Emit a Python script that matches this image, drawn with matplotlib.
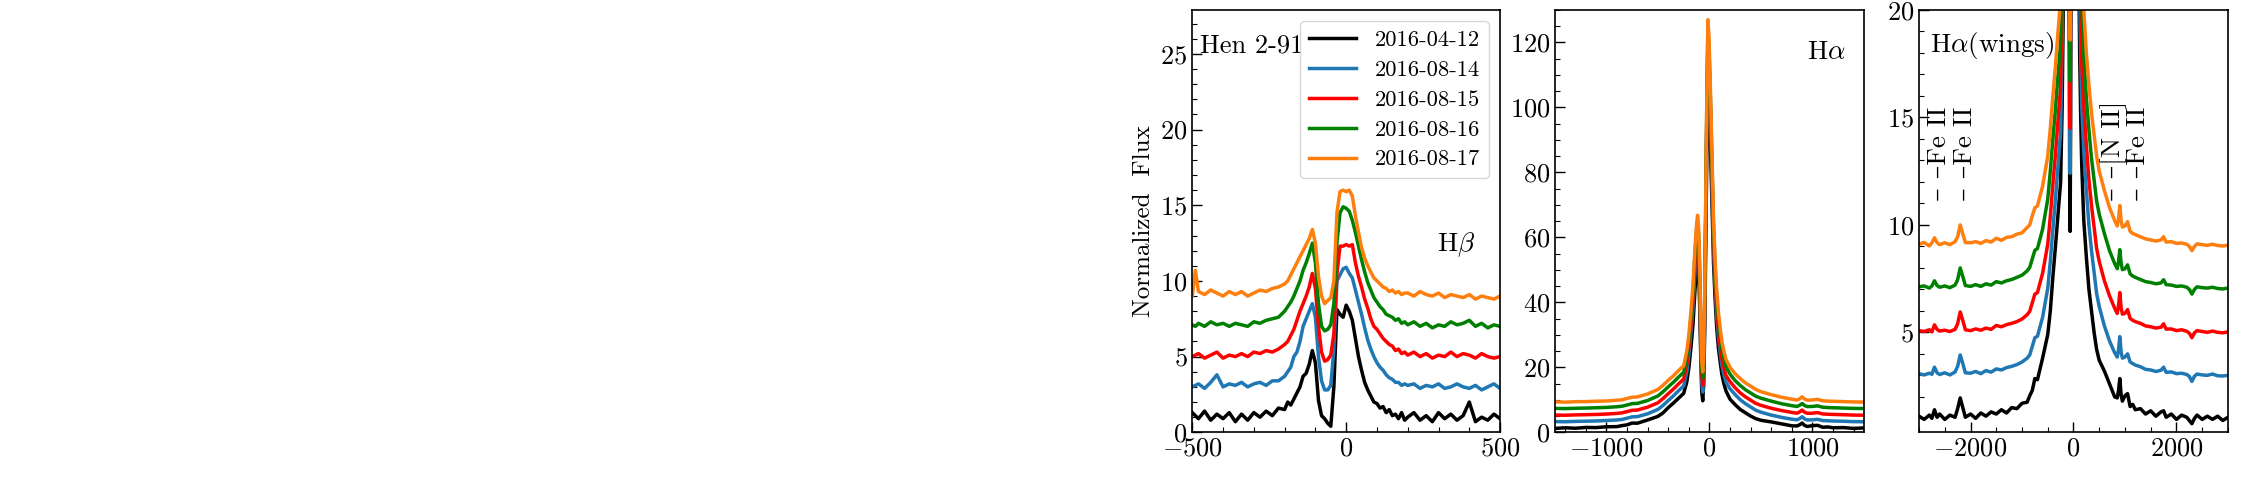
import matplotlib
matplotlib.use("Agg")
import matplotlib.pyplot as plt
from matplotlib.ticker import MultipleLocator

plt.rcParams['font.family'] = ['cmr10', 'DejaVu Serif']
plt.rcParams['mathtext.fontset'] = 'cm'
plt.rcParams['axes.formatter.use_mathtext'] = True

dates = ["2016-04-12", "2016-08-14", "2016-08-15", "2016-08-16", "2016-08-17"]
colors = ["black", "#1f77b4", "red", "green", "#ff7f0e"]

# H-beta, velocity (km/s) and normalized flux (offset spectra)
hb_vel = [-500, -490, -480, -460, -440, -420, -400, -380, -360, -340, -320, -300, -280, -260, -240, -220, -200,
          -190, -180, -170, -160, -150, -140, -130, -120, -110, -100,
          -90, -80, -70, -60, -50, -40, -30, -20, -10, 0,
          10, 20, 30, 40, 50, 60, 70, 80, 90, 100,
          110, 120, 130, 140, 150, 160, 170, 180, 190,
          200, 220, 240, 260, 280, 300, 320, 340, 360, 380, 400, 420, 440, 460, 480, 500]

hb_0412 = [1.3, 1.1, 0.9, 1.4, 0.8, 1.2, 0.9, 1.3, 0.7, 1.2, 0.8, 1.3, 1.0, 1.4, 1.1, 1.6, 1.5,
           2.0, 1.8, 2.2, 2.6, 3.0, 3.7, 3.9, 4.5, 5.4, 4.6,
           2.1, 1.1, 0.9, 0.6, 0.4, 3.0, 8.1, 7.8, 7.6, 8.4,
           8.0, 7.4, 6.2, 5.0, 4.1, 3.3, 2.8, 2.4, 2.0, 1.9,
           1.6, 1.7, 1.3, 1.5, 1.1, 1.2, 0.9, 1.3, 0.8,
           1.0, 1.3, 0.8, 1.1, 0.7, 1.3, 0.9, 1.2, 0.8, 1.1, 2.0, 0.7, 1.0, 0.8, 1.2, 0.9]
hb_0814 = [3.0, 3.1, 3.2, 2.9, 3.3, 3.8, 3.0, 3.2, 3.1, 3.3, 3.0, 3.2, 3.3, 3.1, 3.4, 3.4, 3.7,
           4.0, 4.3, 5.0, 5.3, 6.0, 7.0, 7.5, 8.0, 8.5, 7.6,
           5.0, 3.4, 2.8, 2.8, 3.1, 5.5, 10.0, 10.4, 10.8, 10.9,
           10.5, 10.2, 9.4, 8.6, 7.8, 6.9, 6.1, 5.5, 5.0, 4.6,
           4.3, 4.1, 3.8, 3.6, 3.5, 3.3, 3.3, 3.1, 3.2,
           3.1, 3.2, 2.9, 3.1, 3.0, 3.2, 2.9, 3.0, 3.2, 3.0, 2.9, 3.1, 2.8, 3.0, 3.2, 2.9]
hb_0815 = [5.0, 5.1, 5.2, 4.9, 5.1, 5.3, 4.9, 5.1, 5.0, 5.2, 5.0, 5.3, 5.2, 5.4, 5.3, 5.5, 5.8,
           6.0, 6.4, 6.8, 7.4, 8.0, 8.5, 9.0, 9.6, 10.5, 9.5,
           7.0, 5.3, 4.7, 4.8, 5.1, 6.5, 10.5, 12.3, 12.3, 12.4,
           12.3, 12.4, 11.2, 10.3, 9.6, 8.8, 8.2, 7.5, 7.0, 6.8,
           6.5, 6.2, 6.0, 5.8, 5.7, 5.4, 5.5, 5.2, 5.3,
           5.1, 5.3, 5.0, 5.2, 4.9, 5.1, 5.0, 5.3, 5.0, 5.2, 5.1, 4.9, 5.2, 5.0, 4.9, 5.0]
hb_0816 = [7.1, 7.0, 7.2, 7.0, 7.3, 7.1, 7.2, 7.0, 7.2, 7.1, 7.0, 7.3, 7.2, 7.4, 7.5, 7.6, 8.0,
           8.3, 8.6, 9.0, 9.5, 10.0, 10.7, 11.2, 11.8, 12.5, 11.2,
           8.5, 7.0, 6.7, 6.8, 7.1, 8.5, 12.5, 14.5, 14.9, 14.8,
           14.6, 14.0, 13.2, 12.3, 11.4, 10.6, 9.9, 9.4, 8.9, 8.6,
           8.3, 8.1, 7.8, 7.7, 7.6, 7.4, 7.5, 7.2, 7.3,
           7.1, 7.3, 7.0, 7.2, 6.9, 7.1, 7.0, 7.3, 7.1, 7.2, 7.4, 7.0, 7.2, 6.9, 7.1, 7.0]
hb_0817 = [9.0, 10.7, 9.3, 9.1, 9.4, 9.2, 9.0, 9.3, 9.1, 9.3, 9.0, 9.2, 9.4, 9.3, 9.5, 9.6, 9.8,
           10.0, 10.4, 10.8, 11.2, 11.6, 12.0, 12.4, 12.8, 13.4, 12.5,
           10.3, 9.0, 8.5, 8.7, 8.9, 10.0, 14.5, 15.9, 16.0, 15.9,
           16.0, 15.6, 14.3, 13.2, 12.2, 11.5, 11.0, 10.6, 10.2, 10.0,
           9.8, 9.6, 9.5, 9.3, 9.4, 9.2, 9.3, 9.1, 9.2,
           9.2, 9.0, 9.3, 9.1, 9.0, 9.2, 8.9, 9.1, 9.0, 8.9, 9.1, 8.8, 9.0, 8.9, 8.8, 9.0]

# H-alpha, velocity (km/s) and normalized flux (offset spectra)
ha_vel = [-3000, -2900, -2800, -2750, -2700, -2650, -2600, -2500, -2400, -2300,
          -2250, -2200, -2150, -2100, -2000, -1900, -1800, -1700, -1600, -1500,
          -1400, -1300, -1200, -1100, -1000, -900, -850, -800, -750, -700,
          -600, -500, -450, -400, -350, -300, -250,
          -220, -200, -180, -160, -140, -125, -115, -105, -95, -85,
          -75, -65, -55, -45, -35, -25, -15, -5, 10, 25,
          40, 55, 70, 87, 105, 120, 140, 160,
          200, 250, 300, 350, 400, 450, 500, 600, 700, 800,
          850, 875, 900, 925, 950, 1000, 1050, 1100, 1150, 1200,
          1300, 1400, 1500, 1600, 1700, 1750, 1800, 1900, 2000, 2100,
          2200, 2250, 2300, 2350, 2400, 2500, 2600, 2700, 2800, 2900, 3000]

ha_0412 = [1.10, 0.95, 1.15, 1.00, 1.40, 1.05, 1.20, 0.95, 1.15, 1.05,
           1.45, 1.95, 1.50, 1.05, 1.20, 1.00, 1.25, 1.10, 1.30, 1.20,
           1.40, 1.25, 1.50, 1.45, 1.70, 1.75, 2.05, 2.30, 2.85, 2.80,
           3.80, 4.90, 6.00, 7.60, 9.00, 10.5, 12.0,
           15.5, 19.8, 26.0, 33.0, 44.0, 50.5, 53.0, 49.5, 39.5, 24.0,
           12.5, 9.7, 15.0, 33.0, 60.0, 87.0, 108.0, 104.0, 88.0, 70.0,
           52.0, 41.0, 32.5, 26.0, 21.5, 18.0, 15.0, 12.8,
           10.2, 8.5, 7.0, 6.0, 5.0, 4.2, 3.7, 3.2, 2.6, 2.0,
           1.95, 2.30, 2.85, 2.10, 1.80, 2.05, 2.15, 1.55, 1.65, 1.40,
           1.45, 1.20, 1.35, 1.10, 1.30, 1.35, 1.05, 1.20, 0.95, 1.15,
           1.05, 0.90, 0.75, 1.00, 1.15, 0.95, 1.10, 0.95, 1.10, 0.90, 1.05]
ha_0814 = [3.08, 3.02, 3.10, 3.05, 3.38, 3.12, 3.04, 3.12, 3.02, 3.16,
           3.42, 3.95, 3.55, 3.12, 3.10, 3.18, 3.08, 3.22, 3.15, 3.30,
           3.25, 3.36, 3.42, 3.50, 3.62, 3.80, 3.95, 4.35, 4.75, 4.82,
           5.70, 7.05, 8.30, 9.80, 11.2, 12.8, 14.3,
           18.5, 23.5, 30.5, 38.0, 49.5, 56.5, 59.0, 55.5, 44.5, 28.0,
           15.2, 12.4, 18.5, 38.0, 67.0, 96.0, 117.0, 112.0, 96.0, 76.0,
           57.0, 45.0, 36.0, 29.5, 24.5, 20.8, 17.8, 15.5,
           13.4, 11.6, 10.0, 8.8, 7.8, 6.8, 6.2, 5.3, 4.6, 4.05,
           3.85, 4.20, 4.80, 4.10, 3.80, 3.85, 4.00, 3.62, 3.55, 3.48,
           3.40, 3.28, 3.25, 3.18, 3.24, 3.38, 3.14, 3.16, 3.08, 3.10,
           3.04, 2.95, 2.72, 2.96, 3.06, 3.02, 3.00, 3.06, 2.98, 2.97, 3.00]
ha_0815 = [5.08, 5.04, 5.12, 5.02, 5.35, 5.14, 5.06, 5.10, 5.04, 5.14,
           5.40, 5.95, 5.56, 5.12, 5.08, 5.16, 5.10, 5.20, 5.14, 5.32,
           5.26, 5.36, 5.42, 5.50, 5.62, 5.82, 5.98, 6.38, 6.78, 6.85,
           7.75, 9.10, 10.4, 11.9, 13.3, 14.9, 16.4,
           20.8, 25.8, 32.6, 40.5, 52.0, 59.0, 61.5, 57.8, 46.5, 30.0,
           17.5, 14.5, 20.5, 40.0, 69.0, 99.0, 120.5, 115.5, 99.0, 79.0,
           59.5, 47.5, 38.5, 31.5, 26.5, 22.8, 19.8, 17.5,
           15.6, 13.7, 12.1, 10.9, 9.9, 8.9, 8.3, 7.4, 6.7, 6.12,
           5.88, 6.25, 6.85, 6.15, 5.85, 5.88, 6.06, 5.65, 5.56, 5.50,
           5.42, 5.30, 5.26, 5.20, 5.24, 5.40, 5.15, 5.16, 5.08, 5.12,
           5.05, 4.96, 4.75, 4.98, 5.08, 5.04, 5.00, 5.06, 5.00, 4.98, 5.02]
ha_0816 = [7.12, 7.16, 7.06, 7.16, 7.40, 7.18, 7.10, 7.16, 7.08, 7.20,
           7.45, 8.00, 7.60, 7.18, 7.14, 7.22, 7.14, 7.26, 7.20, 7.36,
           7.30, 7.40, 7.46, 7.56, 7.66, 7.86, 8.02, 8.42, 8.82, 8.90,
           9.80, 11.2, 12.5, 14.0, 15.4, 17.0, 18.5,
           23.0, 28.0, 35.0, 43.0, 55.0, 62.0, 64.8, 61.0, 50.0, 33.0,
           19.8, 16.7, 23.0, 43.0, 73.0, 103.0, 124.0, 119.0, 102.5, 82.5,
           62.5, 50.8, 41.8, 34.8, 29.8, 25.8, 22.8, 20.3,
           17.9, 15.9, 14.4, 13.1, 12.1, 11.1, 10.5, 9.6, 8.8, 8.2,
           7.96, 8.30, 8.85, 8.22, 7.92, 7.96, 8.14, 7.72, 7.62, 7.56,
           7.46, 7.36, 7.32, 7.26, 7.30, 7.45, 7.22, 7.20, 7.14, 7.16,
           7.10, 7.00, 6.78, 7.00, 7.12, 7.08, 7.06, 7.10, 7.04, 7.02, 7.06]
ha_0817 = [9.10, 9.18, 9.02, 9.16, 9.40, 9.18, 9.08, 9.17, 9.08, 9.22,
           9.45, 10.00, 9.58, 9.18, 9.17, 9.22, 9.14, 9.27, 9.20, 9.38,
           9.28, 9.42, 9.45, 9.57, 9.63, 9.88, 10.00, 10.42, 10.80, 10.88,
           11.80, 13.2, 14.5, 16.0, 17.4, 19.0, 20.5,
           25.0, 30.0, 37.0, 45.0, 57.0, 64.0, 66.8, 63.0, 52.0, 35.0,
           22.0, 18.6, 25.0, 45.0, 75.0, 105.0, 127.0, 122.0, 105.0, 85.0,
           65.0, 53.0, 44.0, 37.0, 32.0, 28.0, 25.0, 22.5,
           20.0, 18.0, 16.5, 15.2, 14.2, 13.2, 12.5, 11.6, 10.8, 10.2,
           9.95, 10.3, 10.9, 10.2, 9.9, 9.95, 10.15, 9.7, 9.6, 9.55,
           9.45, 9.35, 9.30, 9.25, 9.30, 9.45, 9.20, 9.22, 9.14, 9.16,
           9.10, 9.00, 8.80, 9.00, 9.12, 9.08, 9.05, 9.10, 9.04, 9.02, 9.05]

hb_series = [hb_0412, hb_0814, hb_0815, hb_0816, hb_0817]
ha_series = [ha_0412, ha_0814, ha_0815, ha_0816, ha_0817]

# line identifications in the wings panel
line_names = ["Fe II", "Fe II", "[N II]", "Fe II"]
line_vel = [-2600, -2110, 780, 1250]


def style_axis(ax, xmaj, xmin, ymaj, ymin):
    ax.xaxis.set_major_locator(MultipleLocator(xmaj))
    ax.xaxis.set_minor_locator(MultipleLocator(xmin))
    ax.yaxis.set_major_locator(MultipleLocator(ymaj))
    ax.yaxis.set_minor_locator(MultipleLocator(ymin))
    ax.tick_params(which='both', direction='in', labelsize=19)
    ax.tick_params(which='major', length=7, width=1)
    ax.tick_params(which='minor', length=3.5, width=0.8)
    for sp in ax.spines.values():
        sp.set_linewidth(1.2)


fig = plt.figure(figsize=(22.5, 4.82), dpi=100)
ax1 = fig.add_axes([0.5299, 0.1031, 0.1368, 0.8762])
ax2 = fig.add_axes([0.6911, 0.1031, 0.1373, 0.8762])
ax3 = fig.add_axes([0.8529, 0.1031, 0.1373, 0.8762])

for flux, c, lab in zip(hb_series, colors, dates):
    ax1.plot(hb_vel, flux, color=c, lw=2.5, label=lab)
for flux, c in zip(ha_series, colors):
    ax2.plot(ha_vel, flux, color=c, lw=2.5)
    ax3.plot(ha_vel, flux, color=c, lw=2.5)

ax1.set_xlim(-500, 500)
ax1.set_ylim(0, 27.9)
style_axis(ax1, 500, 100, 5, 1)
ax1.set_ylabel("Normalized  Flux", fontsize=18)
ax1.legend(loc='upper right', fontsize=16.2, handlelength=2.1, labelspacing=0.45,
           borderaxespad=0.5)
ax1.text(0.025, 0.915, "Hen 2-91", transform=ax1.transAxes, fontsize=19, ha='left', va='center')
ax1.text(0.857, 0.444, r"H$\beta$", transform=ax1.transAxes, fontsize=19.5, ha='center', va='center')

ax2.set_xlim(-1500, 1500)
ax2.set_ylim(0, 130)
style_axis(ax2, 1000, 200, 20, 5)
ax2.text(0.877, 0.90, r"H$\alpha$", transform=ax2.transAxes, fontsize=19.5, ha='center', va='center')

ax3.set_xlim(-3000, 3000)
ax3.set_ylim(0.35, 20)
style_axis(ax3, 2000, 500, 5, 1)
ax3.text(0.036, 0.917, r"H$\alpha$(wings)", transform=ax3.transAxes, fontsize=19.5, ha='left', va='center')
for name, v in zip(line_names, line_vel):
    ax3.text(v, 11.1, "\u2013 \u2013" + name, rotation=90, fontsize=19.5, ha='center', va='bottom')

fig.savefig("out.png", dpi=100)
